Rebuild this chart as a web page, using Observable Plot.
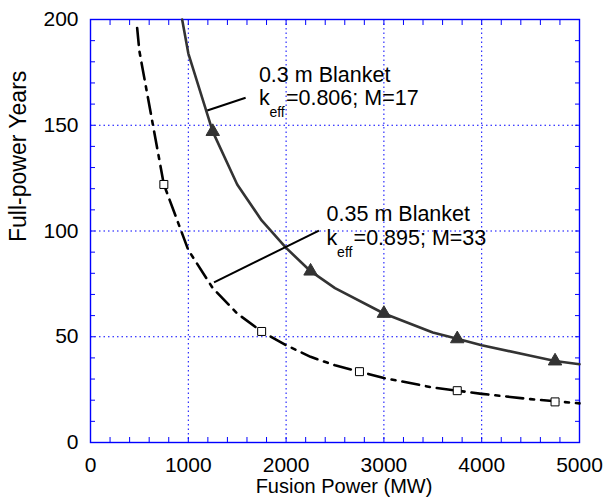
<!DOCTYPE html>
<html>
<head>
<meta charset="utf-8">
<script src="https://cdn.jsdelivr.net/npm/d3@7"></script>
<script src="https://cdn.jsdelivr.net/npm/@observablehq/plot@0.6"></script>
<style>
  html, body { margin: 0; padding: 0; background: #fff; overflow: hidden; }
  #chart { width: 606px; height: 502px; }
</style>
</head>
<body>
<div id="chart"></div>
<script>
// 0.3 m blanket curve (solid)
const solidX = [937, 1000, 1250, 1500, 1750, 2000, 2250, 2500, 3000, 3500, 3750, 4000, 4500, 4750, 5000];
const solidY = [200, 184, 147, 122, 105, 92, 81, 73, 61, 52, 49, 46, 41, 38.5, 37];
const triX = [1250, 2250, 3000, 3750, 4750];
const triY = [147, 81, 61, 49, 38.5];

// 0.35 m blanket curve (dash-dot)
const dashX = [477, 500, 750, 1000, 1250, 1500, 1750, 2000, 2250, 2500, 2750, 3000, 3500, 3750, 4000, 4500, 4750, 5000];
const dashY = [196, 185, 122, 91, 73, 61, 52.5, 46, 40.5, 36.5, 33.5, 30.5, 26, 24.5, 23, 20.5, 19.5, 18.5];
const sqX = [750, 1750, 2750, 3750, 4750];
const sqY = [122, 52.5, 33.5, 24.5, 19.2];

// axis ticks
const xMajor = [0, 1000, 2000, 3000, 4000, 5000];
const yMajor = [0, 50, 100, 150, 200];
const xMinor = d3.range(0, 5001, 200);
const yMinor = d3.range(0, 201, 10);
const xGrid = [1000, 2000, 3000, 4000];
const yGrid = [50, 100, 150];

// annotations
const annTitles = ["0.3 m Blanket", "0.35 m Blanket"];
const annRest = ["=0.806; M=17", "=0.895; M=33"];
const annX = [1722, 2414];
const annTitleY = [170.4, 104.5];
const annKY = [159.3, 93.1];
const leadX1 = [1586, 2336];
const leadY1 = [163, 100.2];
const leadX2 = [1194, 1263];
const leadY2 = [157, 75.7];

const solid = solidX.map((x, i) => ({x, y: solidY[i]}));
const tri = triX.map((x, i) => ({x, y: triY[i]}));
const dash = dashX.map((x, i) => ({x, y: dashY[i]}));
const sq = sqX.map((x, i) => ({x, y: sqY[i]}));
const ann = annTitles.map((t, i) => ({t, rest: annRest[i], x: annX[i], ty: annTitleY[i], ky: annKY[i]}));
const leads = leadX1.map((x1, i) => ({x1, y1: leadY1[i], x2: leadX2[i], y2: leadY2[i]}));

const BLUE = "#0000ff";
const FONT = "'Liberation Sans', Arial, Helvetica, sans-serif";

const chart = Plot.plot({
  width: 606,
  height: 502,
  marginLeft: 90,
  marginRight: 27,
  marginTop: 19,
  marginBottom: 60,
  style: {fontFamily: FONT, fontSize: "21px", background: "#fff", color: "#000", overflow: "visible"},
  x: {domain: [0, 5000]},
  y: {domain: [0, 200]},
  marks: [
    Plot.gridX(xGrid, {stroke: BLUE, strokeOpacity: 1, strokeWidth: 1, strokeDasharray: "1.5,3"}),
    Plot.gridY(yGrid, {stroke: BLUE, strokeOpacity: 1, strokeWidth: 1, strokeDasharray: "1.5,3"}),
    // inward minor ticks on all sides
    Plot.axisX(xMinor, {anchor: "bottom", tickSize: -5, fill: "none", stroke: BLUE, strokeWidth: 1, label: null}),
    Plot.axisX(xMinor, {anchor: "top", tickSize: -5, fill: "none", stroke: BLUE, strokeWidth: 1, label: null}),
    Plot.axisY(yMinor, {anchor: "left", tickSize: -5, fill: "none", stroke: BLUE, strokeWidth: 1, label: null}),
    Plot.axisY(yMinor, {anchor: "right", tickSize: -5, fill: "none", stroke: BLUE, strokeWidth: 1, label: null}),
    // tick labels
    Plot.axisX(xMajor, {anchor: "bottom", tickSize: 0, tickPadding: 15, label: null, tickFormat: d => String(d)}),
    Plot.axisY(yMajor, {anchor: "left", tickSize: 0, tickPadding: 12, label: null, tickFormat: d => String(d)}),
    Plot.frame({stroke: BLUE, strokeWidth: 1.4}),
    // curves
    Plot.line(dash, {x: "x", y: "y", stroke: "#000", strokeWidth: 2.6, strokeDasharray: "17,7,4,7", curve: "linear"}),
    Plot.line(solid, {x: "x", y: "y", stroke: "#333", strokeWidth: 2.6, curve: "linear"}),
    Plot.dot(tri, {x: "x", y: "y", symbol: "triangle", r: 5, fill: "#333", stroke: "#333", strokeWidth: 1}),
    Plot.dot(sq, {x: "x", y: "y", symbol: "square", r: 4.5, fill: "#fff", stroke: "#000", strokeWidth: 1}),
    // leader lines
    Plot.link(leads, {x1: "x1", y1: "y1", x2: "x2", y2: "y2", stroke: "#000", strokeWidth: 2}),
    // annotation text
    Plot.text(ann, {x: "x", y: "ty", text: "t", textAnchor: "start", dy: -7, fontSize: 21.5, fill: "#000"}),
    Plot.text(ann, {x: "x", y: "ky", text: d => "k", textAnchor: "start", dy: -7, fontSize: 21.5, fill: "#000"}),
    Plot.text(ann, {x: "x", y: "ky", text: d => "eff", textAnchor: "start", dx: 10.5, dy: 7.2, fontSize: 14, fill: "#000"}),
    Plot.text(ann, {x: "x", y: "ky", text: "rest", textAnchor: "start", dx: 27, dy: -7, fontSize: 21.5, fill: "#000"}),
    // axis titles
    Plot.text(["Fusion Power (MW)"], {frameAnchor: "bottom", dx: 9, dy: 50.5, fontSize: 20, fill: "#000"}),
    Plot.text(["Full-power Years"], {frameAnchor: "left", rotate: -90, dx: -72, dy: 11, fontSize: 23, fill: "#000"})
  ]
});
document.getElementById("chart").appendChild(chart);
</script>
</body>
</html>
